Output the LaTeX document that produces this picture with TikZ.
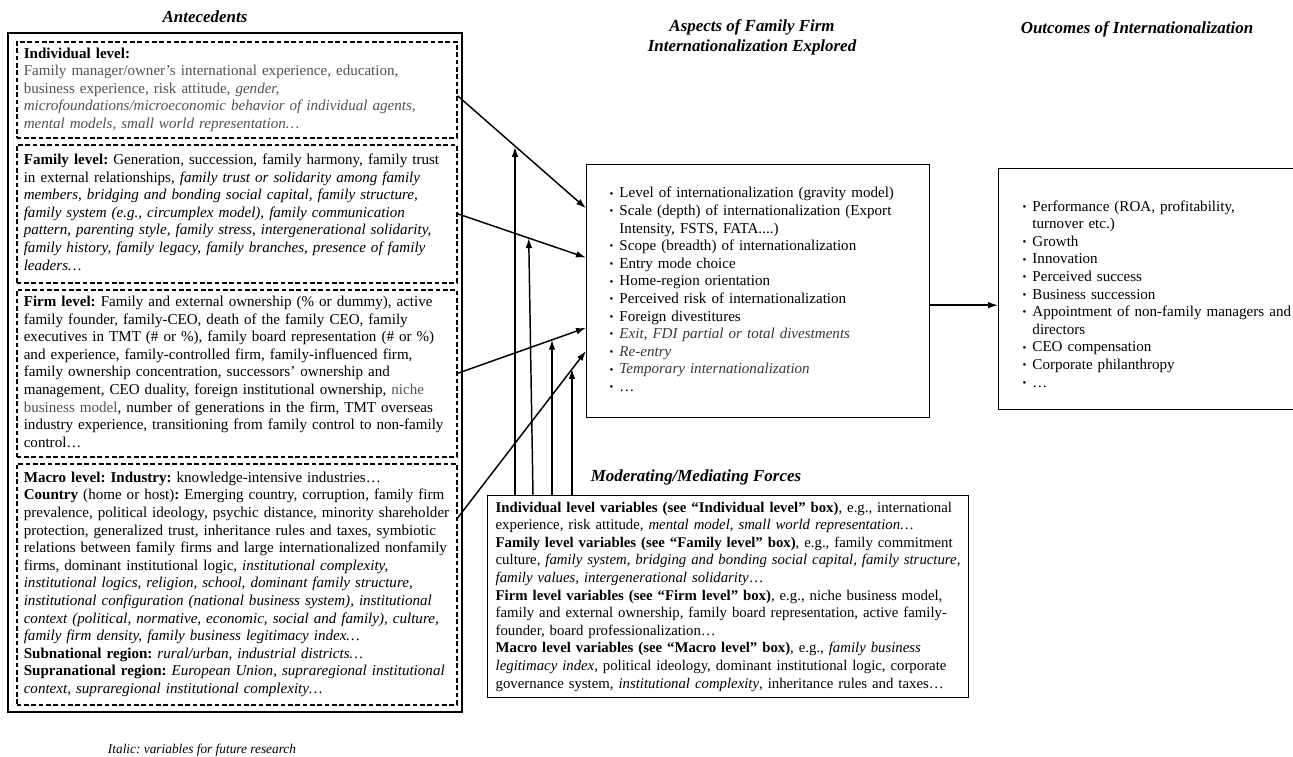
\documentclass[tikz,border=0pt]{standalone}
\usepackage{fontspec}
\usepackage{graphicx}
\setmainfont{Liberation Serif}
\usetikzlibrary{arrows.meta,calc}
\frenchspacing

\colorlet{greytext}{black!68}
\colorlet{greyitalic}{black!78}

% lines of a box, set as given
\newcommand{\boxlines}[1]{\noindent\begin{tabular}{@{}l@{}}#1\end{tabular}}
\newcommand{\bulletlines}[1]{\noindent\begin{tabular}{@{}l@{\hspace{4.5pt}}l@{}}#1\end{tabular}}
\newcommand{\itembullet}{\raisebox{0.6pt}{\scalebox{0.72}{\textbullet}}}
\newcommand{\gt}[1]{\textcolor{greytext}{#1}}

\tikzset{
  basefont/.style={font=\fontsize{11.3}{13.2}\selectfont},
  coltitle/.style={font=\fontsize{12.7}{15}\selectfont\bfseries\itshape, align=center},
  levelbox/.style={basefont, draw, line width=1.2pt, dash pattern=on 3.5pt off 2pt,
    anchor=north west, text width=319.5pt, inner xsep=5.25pt, inner ysep=2pt},
  listbox/.style={basefont, draw, line width=1pt, anchor=north west, inner ysep=2pt},
  arrowline/.style={-{Latex[length=7.5pt,width=5pt]}, line width=1.1pt}
}

\begin{document}
\begin{tikzpicture}[x=0.75pt,y=-0.75pt]
\useasboundingbox (0,0) rectangle (1293,757);

% Column titles
\node[coltitle] (antetitle) at (205,17) {Antecedents};
\node[coltitle] (aspecttitle) at (752,37) {Aspects of Family Firm\\Internationalization Explored};
\node[coltitle] (outtitle) at (1137,29) {Outcomes of Internationalization};
\node[coltitle] (modtitle) at (696,477) {Moderating/Mediating Forces};

% Frame round the antecedents
\draw[line width=1.5pt] (8,33) rectangle (462,712);

% Antecedent levels
\node[levelbox, minimum height=72pt] (ind) at (16,41) {\boxlines{%
\textbf{Individual level:}\\
\gt{Family manager/owner’s international experience, education,}\\
\gt{business experience, risk attitude, \textit{gender,}}\\
\gt{\textit{microfoundations/microeconomic behavior of individual agents,}}\\
\gt{\textit{mental models, small world representation…}}}};

\node[levelbox, minimum height=103.5pt] (fam) at (16,144) {\boxlines{%
\textbf{Family level:} Generation, succession, family harmony, family trust\\
in external relationships, \textit{family trust or solidarity among family}\\
\textit{members, bridging and bonding social capital, family structure,}\\
\textit{family system (e.g., circumplex model), family communication}\\
\textit{pattern, parenting style, family stress, intergenerational solidarity,}\\
\textit{family history, family legacy, family branches, presence of family}\\
\textit{leaders…}}};

\node[levelbox, minimum height=125.25pt] (firm) at (16,289) {\boxlines{%
\textbf{Firm level:} Family and external ownership (\% or dummy), active\\
family founder, family-CEO, death of the family CEO, family\\
executives in TMT (\# or \%), family board representation (\# or \%)\\
and experience, family-controlled firm, family-influenced firm,\\
family ownership concentration, successors’ ownership and\\
management, CEO duality, foreign institutional ownership, \gt{niche}\\
\gt{business model}, number of generations in the firm, TMT overseas\\
industry experience, transitioning from family control to non-family\\
control…}};

\node[levelbox, minimum height=180.75pt] (mac) at (16,463) {\boxlines{%
\textbf{Macro level: Industry:} knowledge-intensive industries…\\
\textbf{Country} (home or host)\textbf{:} Emerging country, corruption, family firm\\
prevalence, political ideology, psychic distance, minority shareholder\\
protection, generalized trust, inheritance rules and taxes, symbiotic\\
relations between family firms and large internationalized nonfamily\\
firms, dominant institutional logic, \textit{institutional complexity,}\\
\textit{institutional logics, religion, school, dominant family structure,}\\
\textit{institutional configuration (national business system), institutional}\\
\textit{context (political, normative, economic, social and family), culture,}\\
\textit{family firm density, family business legitimacy index…}\\
\textbf{Subnational region:} \textit{rural/urban, industrial districts…}\\
\textbf{Supranational region:} \textit{European Union, supraregional institutional}\\
\textit{context, supraregional institutional complexity…}}};

% Aspects explored
\node[listbox, text width=222.5pt, inner xsep=17.25pt, minimum height=189.75pt] (mid) at (586,164) {\bulletlines{%
\itembullet & Level of internationalization (gravity model)\\
\itembullet & Scale (depth) of internationalization (Export\\
 & Intensity, FSTS, FATA....)\\
\itembullet & Scope (breadth) of internationalization\\
\itembullet & Entry mode choice\\
\itembullet & Home-region orientation\\
\itembullet & Perceived risk of internationalization\\
\itembullet & Foreign divestitures\\
\itembullet & \textcolor{greyitalic}{\textit{Exit, FDI partial or total divestments}}\\
\itembullet & \textcolor{greyitalic}{\textit{Re-entry}}\\
\itembullet & \textcolor{greyitalic}{\textit{Temporary internationalization}}\\
\itembullet & …}};

% Outcomes
\node[listbox, text width=187.5pt, inner xsep=18pt, minimum height=180.75pt] (out) at (998,168) {\bulletlines{%
\noalign{\vspace{9.5pt}}
\itembullet & Performance (ROA, profitability,\\
 & turnover etc.)\\
\itembullet & Growth\\
\itembullet & Innovation\\
\itembullet & Perceived success\\
\itembullet & Business succession\\
\itembullet & Appointment of non-family managers and\\
 & directors\\
\itembullet & CEO compensation\\
\itembullet & Corporate philanthropy\\
\itembullet & …}};

% Moderating/mediating forces
\node[listbox, font=\fontsize{11.1}{13.2}\selectfont, text width=348.75pt, inner xsep=6pt, minimum height=151.5pt] (mod) at (487,495) {\boxlines{%
\textbf{Individual level variables (see “Individual level” box)}, e.g., international\\
experience, risk attitude, \textit{mental model, small world representation…}\\
\textbf{Family level variables (see “Family level” box)}, e.g., family commitment\\
culture, \textit{family system, bridging and bonding social capital, family structure,}\\
\textit{family values, intergenerational solidarity}…\\
\textbf{Firm level variables (see “Firm level” box)}, e.g., niche business model,\\
family and external ownership, family board representation, active family-\\
founder, board professionalization…\\
\textbf{Macro level variables (see “Macro level” box)}, e.g., \textit{family business}\\
\textit{legitimacy index,} political ideology, dominant institutional logic, corporate\\
governance system, \textit{institutional complexity}, inheritance rules and taxes…}};

% Note on italics
\node[font=\fontsize{10}{12}\selectfont\itshape] (note) at (202,750) {Italic: variables for future research};

% Antecedents to aspects
\coordinate (i1) at ($(ind.east)+(0,6)$);
\coordinate (i4) at ($(mac.north east)+(0,55)$);
\draw[arrowline] (i1) -- coordinate[pos=0.454] (j1) ($(mid.north west)!0.174!(mid.south west)$);
\draw[arrowline] (fam.east) -- coordinate[pos=0.554] (j2) ($(mid.north west)!0.368!(mid.south west)$);
\draw[arrowline] (firm.east) -- coordinate[pos=0.738] (j3) ($(mid.north west)!0.644!(mid.south west)$);
\draw[arrowline] (i4) -- coordinate[pos=0.892] (j4) ($(mid.north west)!0.735!(mid.south west)$);

% Moderators onto the antecedent arrows
\foreach \dx/\j in {28/j1,65/j3,85/j4}
  \draw[arrowline] ($(mod.north west)+(\dx,0)$) coordinate (b) -- (b |- \j);
\draw[arrowline] ($(mod.north west)+(46,0)$) -- (j2);

% Aspects to outcomes
\draw[arrowline] ($(mid.east)+(0,14)$) coordinate (m2o) -- (m2o -| out.west);
\end{tikzpicture}
\end{document}
